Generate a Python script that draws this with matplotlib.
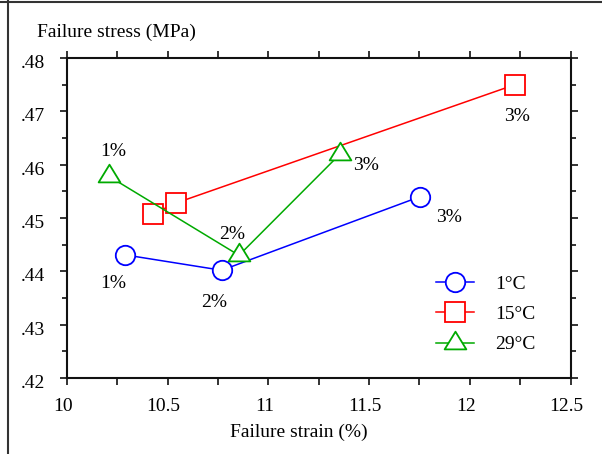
import matplotlib
matplotlib.use('Agg')
import matplotlib.pyplot as plt
from matplotlib.path import Path
from matplotlib.lines import Line2D
from matplotlib.transforms import ScaledTranslation
from matplotlib.ticker import FixedLocator, MultipleLocator

plt.rcParams['font.family'] = ['Liberation Serif', 'DejaVu Serif']

# Data
strain_1C = [10.286, 10.768, 11.753]
stress_1C = [0.4431, 0.4402, 0.4540]
strain_15C = [10.429, 10.541, 12.224]
stress_15C = [0.4508, 0.4528, 0.4750]
strain_29C = [10.209, 10.854, 11.356]
stress_29C = [0.4578, 0.4430, 0.4620]

series_names = ['1°C', '15°C', '29°C']
point_labels_1C = ['1%', '2%', '3%']
point_labels_15C = [None, None, '3%']
point_labels_29C = ['1%', '2%', '3%']

x_ticks = [10, 10.5, 11, 11.5, 12, 12.5]
x_tick_labels = ['10', '10.5', '11', '11.5', '12', '12.5']
y_ticks = [0.42, 0.43, 0.44, 0.45, 0.46, 0.47, 0.48]
y_tick_labels = ['.42', '.43', '.44', '.45', '.46', '.47', '.48']

# Label offsets (pixels) for each point label
offsets_1C = [(-11, -29), (-8, -32), (29, -21)]
offsets_15C = [None, None, (2, -32)]
offsets_29C = [(4, 25), (-7, 21), (26, -12)]

# Wide triangle, centred on its centroid
tri = Path([(0, 1.087), (-1, -0.543), (1, -0.543), (0, 1.087)], closed=True)

fs = 14
fig = plt.figure(figsize=(6.02, 4.54), dpi=100)
ax = fig.add_axes([67 / 602, 1 - 378 / 454, 503.5 / 602, 320 / 454])

styles = [
    (strain_1C, stress_1C, '#0000ff', 'o', 14, point_labels_1C, offsets_1C),
    (strain_15C, stress_15C, '#ff0000', 's', 15, point_labels_15C, offsets_15C),
    (strain_29C, stress_29C, '#00aa00', tri, 17, point_labels_29C, offsets_29C),
]

for (xs, ys, c, m, ms, labs, offs), name in zip(styles, series_names):
    ax.plot(xs, ys, color=c, lw=1.1, marker=m, ms=ms, mfc='white',
            mec=c, mew=1.3, label=name)
    for x, y, lab, off in zip(xs, ys, labs, offs):
        if lab is None:
            continue
        ax.annotate(lab, (x, y), xytext=off, textcoords='offset pixels',
                    ha='center', va='center', fontsize=fs)

ax.set_xlim(10, 12.5)
ax.set_ylim(0.42, 0.48)
ax.xaxis.set_major_locator(FixedLocator(x_ticks))
ax.set_xticklabels(x_tick_labels)
ax.xaxis.set_minor_locator(MultipleLocator(0.25))
ax.yaxis.set_major_locator(FixedLocator(y_ticks))
ax.set_yticklabels(y_tick_labels)
ax.yaxis.set_minor_locator(MultipleLocator(0.005))

for s in ax.spines.values():
    s.set_linewidth(1.5)
    s.set_color('#111111')

ax.tick_params(which='both', direction='out', top=True, right=True,
               width=1.2, color='#111111', labelsize=fs)
ax.tick_params(axis='x', which='both', length=5, pad=9.5)
ax.tick_params(axis='y', which='major', length=5, pad=11)
ax.tick_params(axis='y', which='minor', length=3.5)

# small nudges of tick labels, as in the original
for lab in ax.get_xticklabels():
    lab.set_transform(lab.get_transform() +
                      ScaledTranslation(-4 / 100, 0, fig.dpi_scale_trans))
for lab in ax.get_yticklabels():
    lab.set_transform(lab.get_transform() +
                      ScaledTranslation(0, -3.5 / 100, fig.dpi_scale_trans))

fig.text(36.7 / 602, 1 - 36.5 / 454, 'Failure stress (MPa)', fontsize=fs,
         ha='left', va='baseline')
fig.text(299.3 / 602, 1 - 436.7 / 454, 'Failure strain (%)', fontsize=fs,
         ha='center', va='baseline')

ax.legend(loc='center left', bbox_to_anchor=(0.732, 0.199), frameon=False,
          fontsize=fs, handlelength=2.0, handletextpad=1.08,
          labelspacing=0.65, borderpad=0, borderaxespad=0, numpoints=1)

# frame of the original picture (top and left edges only)
fig.add_artist(Line2D([0, 1], [1 - 1.5 / 454] * 2, color='#333333', lw=1.5,
                      transform=fig.transFigure))
fig.add_artist(Line2D([8.3 / 602] * 2, [0, 1], color='#333333', lw=1.5,
                      transform=fig.transFigure))

fig.savefig('out.png', dpi=100)
